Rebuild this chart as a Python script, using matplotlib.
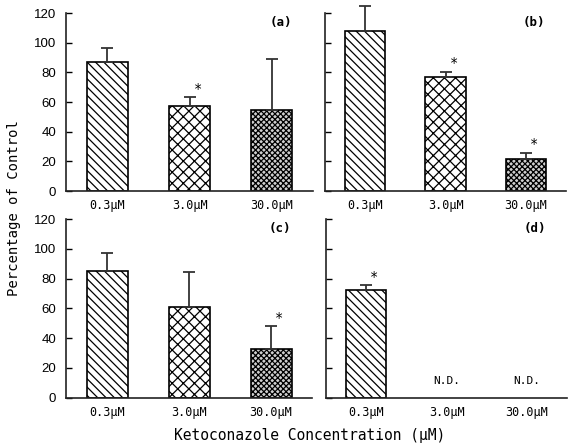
import numpy as np
import matplotlib
matplotlib.use("Agg")
import matplotlib.pyplot as plt

categories = ["0.3μM", "3.0μM", "30.0μM"]
panel_labels = ["(a)", "(b)", "(c)", "(d)"]
mean_a = [87.0, 57.3, 54.6]
sd_a = [9.6, 5.9, 34.4]
mean_b = [108.2, 77.1, 21.8]
sd_b = [16.7, 3.4, 4.1]
mean_c = [85.1, 61.1, 32.7]
sd_c = [11.9, 23.1, 15.3]
mean_d = [72.3, np.nan, np.nan]
sd_d = [3.4, np.nan, np.nan]
star_a = [False, True, False]
star_b = [False, True, True]
star_c = [False, False, True]
star_d = [True, False, False]
nd_d = [False, True, True]
yticks = [0, 20, 40, 60, 80, 100, 120]
xlabel = "Ketoconazole Concentration (μM)"
ylabel = "Percentage of Control"

plt.rcParams['hatch.linewidth'] = 0.9
mono = "DejaVu Sans Mono"

W, H = 579, 448
fig = plt.figure(figsize=(W / 100, H / 100), dpi=100)

def px_axes(l, r, top, bot):
    return fig.add_axes([l / W, (H - bot) / H, (r - l) / W, (bot - top) / H])

axes = [px_axes(66, 313, 13, 191), px_axes(325, 566, 13, 191),
        px_axes(66, 312, 219, 397.7), px_axes(326, 567, 219, 397.7)]
data = [(mean_a, sd_a, star_a), (mean_b, sd_b, star_b),
        (mean_c, sd_c, star_c), (mean_d, sd_d, star_d)]
hatches = ['\\\\\\\\', 'xxx', 'xxxxxx']
faces = ['white', 'white', '#cfcfcf']

for i, (ax, (m, s, st)) in enumerate(zip(axes, data)):
    x = np.arange(len(categories))
    for j in range(len(categories)):
        if np.isnan(m[j]):
            continue
        ax.bar(x[j], m[j], width=0.5, facecolor=faces[j], edgecolor='black',
               hatch=hatches[j], linewidth=1.2, zorder=2)
        eb = ax.errorbar(x[j], m[j], yerr=[[0], [s[j]]], fmt='none', ecolor='#333333',
                         elinewidth=1.3, capsize=4, capthick=1.3, zorder=3)
        for art in eb.lines[1] + eb.lines[2]:
            art.set_clip_on(False)
        if st[j]:
            ax.annotate('*', (x[j], m[j] + s[j]), xytext=(6, 1),
                        textcoords='offset points', ha='center', va='bottom',
                        fontsize=10, fontfamily=mono)
    if i == 3:
        for j in range(len(categories)):
            if nd_d[j]:
                ax.text(x[j], 8, 'N.D.', ha='center', va='bottom',
                        fontsize=8, fontfamily=mono)
    ax.set_xlim(-0.5, 2.5)
    ax.set_ylim(0, 120)
    ax.set_yticks(yticks)
    ax.set_xticks(x)
    ax.set_xticklabels(categories, fontfamily=mono, fontsize=8.5)
    for lab in ax.get_yticklabels():
        lab.set_fontfamily("Liberation Sans")
    ax.tick_params(axis='x', length=0, pad=6)
    ax.tick_params(axis='y', direction='in', length=4, width=1, pad=7,
                   labelsize=9.5)
    if i in (1, 3):
        ax.tick_params(axis='y', labelleft=False)
    for sp in ['top', 'right']:
        ax.spines[sp].set_visible(False)
    for sp in ['left', 'bottom']:
        ax.spines[sp].set_linewidth(1.2)
        ax.spines[sp].set_color('#222222')
    ax.text(0.915, 0.945, panel_labels[i], transform=ax.transAxes, ha='right',
            va='center', fontsize=9, fontweight='bold', fontfamily=mono)

fig.text(310 / W, 1 - 435 / H, xlabel, ha='center', va='center',
         fontsize=10.5, fontfamily=mono)
fig.text(14 / W, 1 - 208 / H, ylabel, ha='center', va='center',
         rotation=90, fontsize=10, fontfamily=mono)

fig.savefig("out.png", dpi=100)
